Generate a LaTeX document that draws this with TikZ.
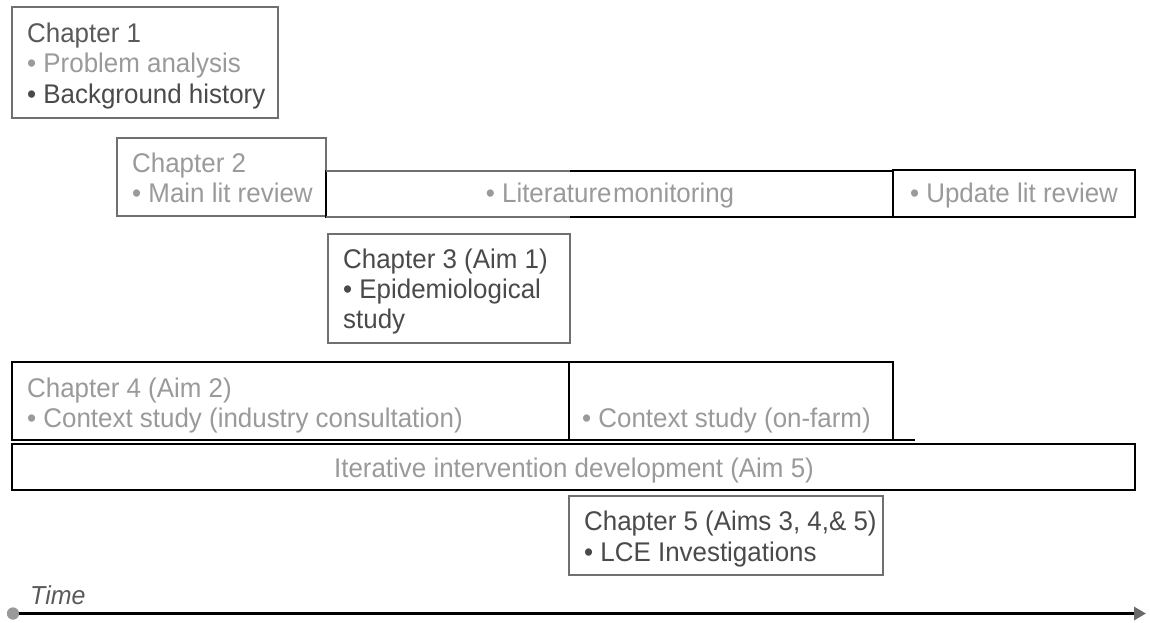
\documentclass[tikz,border=0pt]{standalone}
\usepackage{fontspec}
\setmainfont[FakeStretch=0.96]{Liberation Sans}
\usetikzlibrary{arrows.meta,calc}
\definecolor{lgrey}{HTML}{9A9A9A}
\definecolor{dgrey}{HTML}{4A4A4A}
\definecolor{mgrey}{HTML}{5A5A5A}
\definecolor{bgrey}{HTML}{707070}
\definecolor{tipgrey}{HTML}{6A6A6A}
\begin{document}
\begin{tikzpicture}[x=1pt,y=-1pt,
  gbox/.style={draw=bgrey, line width=1.3pt, anchor=north west, inner sep=0pt, outer sep=0pt},
  kbox/.style={draw=black, line width=1.8pt, anchor=north west, inner sep=0pt, outer sep=0pt},
  txt/.style={inner sep=0pt, anchor=base west, font=\fontsize{27}{31}\selectfont},
  ctxt/.style={inner sep=0pt, anchor=base, font=\fontsize{27}{31}\selectfont},
]
\useasboundingbox[fill=white] (0,0) rectangle (1150,622);

% Chapter 1
\node[gbox, minimum width=266pt, minimum height=111pt] (ch1) at (12,7) {};
\node[txt, text=mgrey] (ch1a) at (27,42) {Chapter 1};
\node[txt, text=lgrey] (ch1b) at (27,72) {• Problem analysis};
\node[txt, text=dgrey] (ch1c) at (27,103) {• Background history};

% Chapter 2
\node[gbox, minimum width=209pt, minimum height=78pt] (ch2) at (117,138) {};
\node[txt, text=lgrey] (ch2a) at (132,172) {Chapter 2};
\node[txt, text=lgrey] (ch2b) at (132,202) {• Main lit review};

% Literature monitoring
\node[kbox, minimum width=567pt, minimum height=46pt] (lit) at (326,171) {};
\node[ctxt, text=lgrey] (litt) at (610,202) {• Literature\hspace{1.5pt}monitoring};

% Update lit review
\node[kbox, minimum width=242pt, minimum height=47pt] (upd) at (893,170) {};
\node[ctxt, text=lgrey] (updt) at (1014,202) {• Update lit review};

% Chapter 3
\node[gbox, minimum width=242pt, minimum height=109pt] (ch3) at (328,234) {};
\node[txt, text=dgrey] (ch3a) at (343,268) {Chapter 3 (Aim 1)};
\node[txt, text=dgrey] (ch3b) at (343,298) {• Epidemiological};
\node[txt, text=dgrey] (ch3c) at (343,328) {study};

% grey left part of literature monitoring box
\draw[draw=bgrey, line width=1.3pt] (lit.north west) -- (lit.north west -| ch3.east);
\draw[draw=bgrey, line width=1.3pt] (lit.south west) -- (lit.south west -| ch3.east);

% Chapter 4
\node[kbox, minimum width=557pt, minimum height=78pt] (ch4) at (12,362) {};
\node[txt, text=lgrey] (ch4a) at (27,397) {Chapter 4 (Aim 2)};
\node[txt, text=lgrey] (ch4b) at (27,427) {• Context study (industry consultation)};

% Context study on-farm
\node[kbox, minimum width=324pt, minimum height=78pt] (farm) at (569,362) {};
\node[txt, text=lgrey] (farmt) at (582,427) {• Context study (on-farm)};
\coordinate (farmext) at (915,440);
\draw[black, line width=1.8pt] (farm.south east) -- (farmext);

% Iterative intervention development
\node[kbox, minimum width=1123pt, minimum height=46pt] (iter) at (12,444) {};
\node[ctxt, text=lgrey] (itert) at (574,477) {Iterative intervention development (Aim 5)};

% Chapter 5
\node[gbox, minimum width=314pt, minimum height=79pt] (ch5) at (569,496) {};
\node[txt, text=dgrey] (ch5a) at (584,530) {Chapter 5 (Aims 3, 4,\& 5)};
\node[txt, text=dgrey] (ch5b) at (584,561) {• LCE Investigations};

% Time axis
\node[txt, text=mgrey, font=\fontsize{26}{30}\selectfont\itshape] (time) at (30,604) {Time};
\node[circle, fill=lgrey, inner sep=0pt, minimum size=12pt] (tstart) at (13,613.5) {};
\coordinate (tend) at (1146,613.5);
\draw[black, line width=3.5pt, -{Triangle[length=12pt, width=13pt, color=tipgrey]}] (tstart.center) -- (tend);
\fill[lgrey] (tstart) circle (6pt);
\end{tikzpicture}
\end{document}
